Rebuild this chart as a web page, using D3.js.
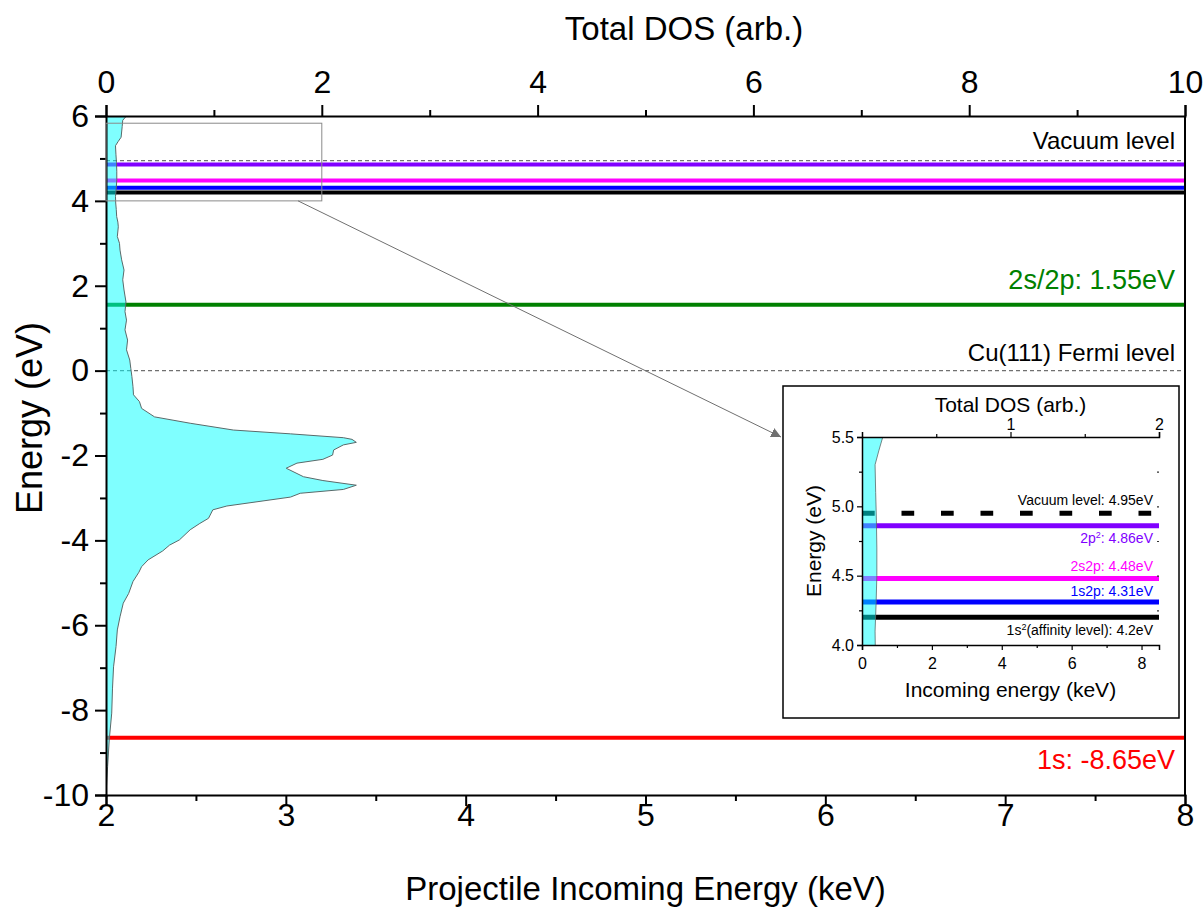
<!DOCTYPE html>
<html>
<head>
<meta charset="utf-8">
<script src="https://cdn.jsdelivr.net/npm/d3@7"></script>
<style>
  html, body { margin: 0; padding: 0; background: #fff; }
  svg { display: block; font-family: "Liberation Sans", Arial, sans-serif; }
</style>
</head>
<body>
<svg id="chart" width="1204" height="909"></svg>
<script>
// Total density of states of Cu(111): energy (eV) and DOS (arb.)
const dosEnergy = [6.0, 5.9, 5.75, 5.5, 5.4, 5.3, 5.1, 4.9, 4.7, 4.5, 4.3, 4.1, 3.95, 3.8, 3.63, 3.5, 3.39, 3.16, 3.0, 2.84,
  2.61, 2.37, 2.14, 1.9, 1.62, 1.39, 1.19, 0.96, 0.72, 0.49, 0.25, 0.05, -0.14, -0.38, -0.57, -0.73, -0.89, -1.09, -1.24, -1.40,
  -1.49, -1.58, -1.62, -1.69, -1.75, -1.87, -1.99, -2.09, -2.18, -2.30, -2.50, -2.59, -2.70, -2.80, -2.89, -2.98, -3.19, -3.28, -3.48, -3.60,
  -3.75, -3.99, -4.11, -4.25, -4.46, -4.62, -4.75, -4.97, -5.25, -5.48, -5.80, -6.11, -6.50, -6.98, -7.5, -8.07, -8.70, -9.33, -10.0];
const dosValue = [0.19, 0.155, 0.15, 0.14, 0.113, 0.088, 0.092, 0.097, 0.1, 0.1, 0.095, 0.088, 0.09, 0.095, 0.099, 0.11, 0.114, 0.105, 0.125, 0.13,
  0.145, 0.167, 0.155, 0.167, 0.185, 0.176, 0.19, 0.176, 0.2, 0.19, 0.22, 0.23, 0.24, 0.25, 0.255, 0.31, 0.33, 0.45, 0.78, 1.18,
  1.71, 2.20, 2.28, 2.32, 2.20, 2.11, 2.10, 2.01, 1.77, 1.67, 1.83, 2.01, 2.32, 2.20, 1.80, 1.71, 1.12, 0.99, 0.95, 0.87,
  0.78, 0.68, 0.59, 0.525, 0.39, 0.33, 0.305, 0.25, 0.21, 0.16, 0.13, 0.105, 0.093, 0.07, 0.06, 0.053, 0.03, 0.015, 0.0];

// Projectile levels (eV) drawn as horizontal lines
const levelNames  = ["1s", "2s/2p", "1s2", "1s2p", "2s2p", "2p2"];
const levelEnergy = [-8.65, 1.55, 4.2, 4.31, 4.48, 4.86];
const levelColor  = ["#ff0000", "#008000", "#000000", "#0000ff", "#ff00ff", "#8000ff"];
const vacuumLevel = 4.95;
const fermiLevel  = 0;

// Axis ranges and ticks
const mainEnergyDomain = [-10, 6];
const mainIncomingDomain = [2, 8];
const mainDosDomain = [0, 10];
const mainEnergyTicks = [-10, -8, -6, -4, -2, 0, 2, 4, 6];
const mainIncomingTicks = [2, 3, 4, 5, 6, 7, 8];
const mainDosTicks = [0, 2, 4, 6, 8, 10];
const zoomBox = { dos: [0, 2], energy: [4.0, 5.83] };

const insetEnergyDomain = [4.0, 5.5];
const insetIncomingDomain = [0, 8.5];
const insetDosDomain = [0, 2];
const insetEnergyTicks = [4.0, 4.5, 5.0, 5.5];
const insetIncomingTicks = [0, 2, 4, 6, 8];
const insetDosTicks = [1, 2];

const dos = dosEnergy.map((e, i) => ({ e, v: dosValue[i] }));
const svg = d3.select("#chart");
const plain = d => String(d);   // hyphen-minus, as in the axis labels

// ---------------- main panel ----------------
const M = { left: 106, right: 1185, top: 116, bottom: 795 };
const x = d3.scaleLinear().domain(mainIncomingDomain).range([M.left, M.right]);
const xDos = d3.scaleLinear().domain(mainDosDomain).range([M.left, M.right]);
const y = d3.scaleLinear().domain(mainEnergyDomain).range([M.bottom, M.top]);

svg.append("defs").append("clipPath").attr("id", "mainClip")
  .append("rect").attr("x", M.left).attr("y", M.top)
  .attr("width", M.right - M.left).attr("height", M.bottom - M.top);

const plot = svg.append("g").attr("clip-path", "url(#mainClip)");

// dashed reference levels
[vacuumLevel, fermiLevel].forEach(v => {
  plot.append("line")
    .attr("x1", x(mainIncomingDomain[0])).attr("x2", x(mainIncomingDomain[1]))
    .attr("y1", y(v)).attr("y2", y(v))
    .attr("stroke", "#707070").attr("stroke-width", 1.2).attr("stroke-dasharray", "4,3");
});

// projectile levels
levelEnergy.forEach((v, i) => {
  plot.append("line")
    .attr("x1", x(mainIncomingDomain[0])).attr("x2", x(mainIncomingDomain[1]))
    .attr("y1", y(v)).attr("y2", y(v))
    .attr("stroke", levelColor[i]).attr("stroke-width", 4);
});

// total DOS, filled from zero
const mainArea = d3.area().y(d => y(d.e)).x0(xDos(0)).x1(d => xDos(d.v)).curve(d3.curveLinear);
const mainEdge = d3.line().y(d => y(d.e)).x(d => xDos(d.v));
plot.append("path").datum(dos).attr("d", mainArea).attr("fill", "#00ffff").attr("fill-opacity", 0.5);
plot.append("path").datum(dos).attr("d", mainEdge).attr("fill", "none").attr("stroke", "#5a6a6a").attr("stroke-width", 1);

// axes
function styleAxis(g, fontSize) {
  g.select(".domain").attr("stroke", "#000").attr("stroke-width", 2);
  g.selectAll(".tick line").attr("stroke", "#000").attr("stroke-width", 2);
  g.selectAll(".tick text").attr("font-size", fontSize).attr("fill", "#000")
    .attr("font-family", "Liberation Sans, Arial, sans-serif");
}
const mainFont = 32;
const minorOf = (ticks, step) => d3.range(ticks[0] + step, ticks[ticks.length - 1], step * 2);

const gLeft = svg.append("g").attr("transform", `translate(${M.left},0)`)
  .call(d3.axisLeft(y).tickValues(mainEnergyTicks).tickSize(11).tickPadding(6).tickFormat(plain));
styleAxis(gLeft, mainFont);
svg.append("g").attr("transform", `translate(${M.left},0)`)
  .call(d3.axisLeft(y).tickValues(minorOf(mainEnergyTicks, 1)).tickSize(6).tickFormat(""))
  .call(g => { g.select(".domain").remove(); g.selectAll("line").attr("stroke", "#000").attr("stroke-width", 2); });

const gBottom = svg.append("g").attr("transform", `translate(0,${M.bottom})`)
  .call(d3.axisBottom(x).tickValues(mainIncomingTicks).tickSize(11).tickPadding(-3).tickFormat(plain));
styleAxis(gBottom, mainFont);
svg.append("g").attr("transform", `translate(0,${M.bottom})`)
  .call(d3.axisBottom(x).tickValues(minorOf(mainIncomingTicks, 0.5)).tickSize(6).tickFormat(""))
  .call(g => { g.select(".domain").remove(); g.selectAll("line").attr("stroke", "#000").attr("stroke-width", 2); });

const gTop = svg.append("g").attr("transform", `translate(0,${M.top})`)
  .call(d3.axisTop(xDos).tickValues(mainDosTicks).tickSize(11).tickPadding(12).tickFormat(plain));
styleAxis(gTop, mainFont);
svg.append("g").attr("transform", `translate(0,${M.top})`)
  .call(d3.axisTop(xDos).tickValues(minorOf(mainDosTicks, 1)).tickSize(6).tickFormat(""))
  .call(g => { g.select(".domain").remove(); g.selectAll("line").attr("stroke", "#000").attr("stroke-width", 2); });

svg.append("line").attr("x1", M.right).attr("x2", M.right).attr("y1", M.top).attr("y2", M.bottom)
  .attr("stroke", "#000").attr("stroke-width", 2);

// axis titles
const titleFont = 33;
svg.append("text").attr("x", 684).attr("y", 40).attr("text-anchor", "middle")
  .attr("font-size", titleFont).text("Total DOS (arb.)");
svg.append("text").attr("x", (M.left + M.right) / 2).attr("y", 900).attr("text-anchor", "middle")
  .attr("font-size", titleFont).text("Projectile Incoming Energy (keV)");
svg.append("text").attr("transform", `translate(42,418) rotate(-90)`)
  .attr("text-anchor", "middle").attr("font-size", 36).text("Energy (eV)");

// level annotations
const labelX = 1175, labelFont = 24, colorLabelFont = 27;
svg.append("text").attr("x", labelX).attr("y", y(vacuumLevel) - 12).attr("text-anchor", "end")
  .attr("font-size", labelFont).text("Vacuum level");
svg.append("text").attr("x", labelX).attr("y", y(fermiLevel) - 10).attr("text-anchor", "end")
  .attr("font-size", labelFont).text("Cu(111) Fermi level");
svg.append("text").attr("x", labelX).attr("y", y(levelEnergy[1]) - 16).attr("text-anchor", "end")
  .attr("font-size", colorLabelFont).attr("fill", levelColor[1]).text(`2s/2p: ${levelEnergy[1]}eV`);
svg.append("text").attr("x", labelX).attr("y", y(levelEnergy[0]) + 31).attr("text-anchor", "end")
  .attr("font-size", colorLabelFont).attr("fill", levelColor[0]).text(`1s: ${levelEnergy[0]}eV`);

// zoom window and pointer to inset
svg.append("rect")
  .attr("x", xDos(zoomBox.dos[0])).attr("y", y(zoomBox.energy[1]))
  .attr("width", xDos(zoomBox.dos[1]) - xDos(zoomBox.dos[0]))
  .attr("height", y(zoomBox.energy[0]) - y(zoomBox.energy[1]))
  .attr("fill", "none").attr("stroke", "#8a8a8a").attr("stroke-width", 1);

// ---------------- inset ----------------
const F = { left: 783, right: 1179, top: 386, bottom: 718 };
const I = { left: 862, right: 1159, top: 437, bottom: 645 };
const ix = d3.scaleLinear().domain(insetIncomingDomain).range([I.left, I.right]);
const ixDos = d3.scaleLinear().domain(insetDosDomain).range([I.left, I.right]);
const iy = d3.scaleLinear().domain(insetEnergyDomain).range([I.bottom, I.top]);

svg.select("defs").append("marker").attr("id", "arrow").attr("viewBox", "0 0 10 10")
  .attr("refX", 10).attr("refY", 5).attr("markerWidth", 10).attr("markerHeight", 10)
  .attr("markerUnits", "userSpaceOnUse").attr("orient", "auto")
  .append("path").attr("d", "M0,0 L10,5 L0,10 Z").attr("fill", "#707070");
svg.append("line")
  .attr("x1", xDos(1.78)).attr("y1", y(zoomBox.energy[0]))
  .attr("x2", F.left - 2).attr("y2", I.top)
  .attr("stroke", "#707070").attr("stroke-width", 1).attr("marker-end", "url(#arrow)");

svg.append("rect").attr("x", F.left).attr("y", F.top)
  .attr("width", F.right - F.left).attr("height", F.bottom - F.top)
  .attr("fill", "#fff").attr("stroke", "#000").attr("stroke-width", 1.5);

svg.select("defs").append("clipPath").attr("id", "insetClip")
  .append("rect").attr("x", I.left).attr("y", I.top)
  .attr("width", I.right - I.left).attr("height", I.bottom - I.top);
const iplot = svg.append("g").attr("clip-path", "url(#insetClip)");

iplot.append("line")
  .attr("x1", ix(insetIncomingDomain[0])).attr("x2", ix(insetIncomingDomain[1]))
  .attr("y1", iy(vacuumLevel)).attr("y2", iy(vacuumLevel))
  .attr("stroke", "#000").attr("stroke-width", 5).attr("stroke-dasharray", "12.7,26.8");
levelEnergy.forEach((v, i) => {
  if (v < insetEnergyDomain[0]) return;
  iplot.append("line")
    .attr("x1", ix(insetIncomingDomain[0])).attr("x2", ix(insetIncomingDomain[1]))
    .attr("y1", iy(v)).attr("y2", iy(v))
    .attr("stroke", levelColor[i]).attr("stroke-width", 5);
});
iplot.append("path").datum(dos)
  .attr("d", d3.area().y(d => iy(d.e)).x0(ixDos(0)).x1(d => ixDos(d.v)))
  .attr("fill", "#00ffff").attr("fill-opacity", 0.5);
iplot.append("path").datum(dos)
  .attr("d", d3.line().y(d => iy(d.e)).x(d => ixDos(d.v)))
  .attr("fill", "none").attr("stroke", "#5a6a6a").attr("stroke-width", 0.8);

function styleInsetAxis(g) {
  g.select(".domain").attr("stroke", "#000").attr("stroke-width", 1.5);
  g.selectAll(".tick line").attr("stroke", "#000").attr("stroke-width", 1.2);
  g.selectAll(".tick text").attr("font-size", 16).attr("fill", "#000")
    .attr("font-family", "Liberation Sans, Arial, sans-serif");
}
svg.append("g").attr("transform", `translate(${I.left},0)`)
  .call(d3.axisLeft(iy).tickValues(insetEnergyTicks).tickSize(5).tickPadding(3).tickFormat(d3.format(".1f")))
  .call(styleInsetAxis);
svg.append("g").attr("transform", `translate(${I.left},0)`)
  .call(d3.axisLeft(iy).tickValues([4.25, 4.75, 5.25]).tickSize(3).tickFormat(""))
  .call(g => { g.select(".domain").remove(); g.selectAll("line").attr("stroke", "#000").attr("stroke-width", 1.2); });
svg.append("g").attr("transform", `translate(0,${I.bottom})`)
  .call(d3.axisBottom(ix).tickValues(insetIncomingTicks).tickSize(5).tickPadding(8).tickFormat(plain))
  .call(styleInsetAxis);
svg.append("g").attr("transform", `translate(0,${I.bottom})`)
  .call(d3.axisBottom(ix).tickValues([1, 3, 5, 7]).tickSize(3).tickFormat(""))
  .call(g => { g.select(".domain").remove(); g.selectAll("line").attr("stroke", "#000").attr("stroke-width", 1.2); });
svg.append("g").attr("transform", `translate(0,${I.top})`)
  .call(d3.axisTop(ixDos).tickValues(insetDosTicks).tickSize(5).tickPadding(2).tickFormat(plain))
  .call(styleInsetAxis);
svg.append("g").attr("transform", `translate(0,${I.top})`)
  .call(d3.axisTop(ixDos).tickValues([0.5, 1.5]).tickSize(3).tickFormat(""))
  .call(g => { g.select(".domain").remove(); g.selectAll("line").attr("stroke", "#000").attr("stroke-width", 1.2); });
// right side: short inner ticks only
svg.append("g").attr("transform", `translate(${I.right},0)`)
  .call(d3.axisLeft(iy).tickValues([4.25, 4.5, 4.75, 5.0, 5.25]).tickSize(2).tickFormat(""))
  .call(g => { g.select(".domain").remove(); g.selectAll("line").attr("stroke", "#333").attr("stroke-width", 1.2); });

svg.append("text").attr("x", (I.left + I.right) / 2).attr("y", 412).attr("text-anchor", "middle")
  .attr("font-size", 21).text("Total DOS (arb.)");
svg.append("text").attr("x", (I.left + I.right) / 2).attr("y", 697).attr("text-anchor", "middle")
  .attr("font-size", 21).text("Incoming energy (keV)");
svg.append("text").attr("transform", `translate(821,${(I.top + I.bottom) / 2}) rotate(-90)`)
  .attr("text-anchor", "middle").attr("font-size", 21).text("Energy (eV)");

// inset level annotations
const ilx = 1153, ilf = 14;
const insetLabels = [
  { v: vacuumLevel, dy: -8, color: "#000", parts: [["Vacuum level: 4.95eV"]] },
  { v: levelEnergy[5], dy: 17, color: levelColor[5], parts: [["2p"], ["2", true], [": 4.86eV"]] },
  { v: levelEnergy[4], dy: -7, color: levelColor[4], parts: [["2s2p: 4.48eV"]] },
  { v: levelEnergy[3], dy: -6, color: levelColor[3], parts: [["1s2p: 4.31eV"]] },
  { v: levelEnergy[2], dy: 18, color: levelColor[2], parts: [["1s"], ["2", true], ["(affinity level): 4.2eV"]] }
];
insetLabels.forEach(l => {
  const t = svg.append("text").attr("x", ilx).attr("y", iy(l.v) + l.dy)
    .attr("text-anchor", "end").attr("font-size", ilf).attr("fill", l.color);
  l.parts.forEach(([s, sup]) => {
    t.append("tspan").attr("font-size", sup ? 9 : ilf)
      .attr("baseline-shift", sup ? "super" : null).text(s);
  });
});
</script>
</body>
</html>
